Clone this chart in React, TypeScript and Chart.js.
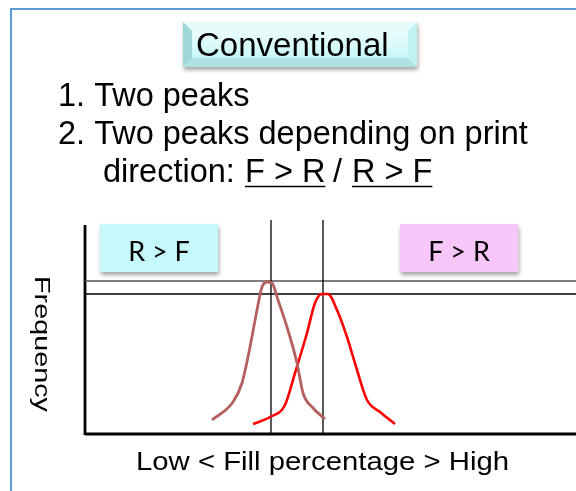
import React, { useEffect, useRef } from 'react';
import { Chart, registerables } from 'chart.js';

Chart.register(...registerables);

// ---- text content ----
const titleText = 'Conventional';
const noteLines = ['1. Two peaks', '2. Two peaks depending on print'];
const directionPrefix = 'direction:';
const directionOptions = ['F > R', 'R > F'];
const regionLabels = ['R > F', 'F > R'];
const xAxisTitle = 'Low < Fill percentage > High';
const yAxisTitle = 'Frequency';

// ---- data (arbitrary units: fill percentage vs frequency) ----
const rfX = [127, 148, 157, 165, 172, 177, 182, 187, 193, 202, 212, 218, 228, 240];
const rfY = [14, 32, 51, 87, 124, 147, 152, 151, 134, 107, 71, 41, 26, 15];
const frX = [168, 185, 200, 210, 222, 230, 237, 243, 252, 262, 272, 282, 295, 310];
const frY = [10, 17, 29, 61, 101, 131, 140, 140, 124, 97, 64, 34, 22, 10];
const peakX = [186, 238];
const peakY = [153, 140];
const xMax = 491;
const yMax = 214;
const yAxisTop = 209;

const FONT = '"Liberation Sans", Arial, sans-serif';

function pts(xs: number[], ys: number[]) {
  return xs.map((x, i) => ({ x, y: ys[i] }));
}

const decorPlugin = {
  id: 'decor',
  beforeDraw(chart: any) {
    const ctx: CanvasRenderingContext2D = chart.ctx;
    const xs = chart.scales.x;
    const ys = chart.scales.y;
    ctx.save();
    ctx.fillStyle = '#ffffff';
    ctx.fillRect(0, 0, chart.width, chart.height);

    // slide border
    ctx.strokeStyle = '#5b9bd5';
    ctx.lineWidth = 2;
    ctx.strokeRect(11, 9, 700, 600);

    // title bevel box
    const bx = 183, by = 22, bw = 234, bh = 45, bv = 9;
    ctx.save();
    ctx.shadowColor = 'rgba(0,0,0,0.35)';
    ctx.shadowBlur = 4;
    ctx.shadowOffsetY = 3;
    ctx.shadowOffsetX = 1;
    ctx.fillStyle = '#c8f2f2';
    ctx.fillRect(bx, by, bw, bh);
    ctx.restore();
    const poly = (p: number[][], c: string) => {
      ctx.beginPath();
      ctx.moveTo(p[0][0], p[0][1]);
      for (let i = 1; i < p.length; i++) ctx.lineTo(p[i][0], p[i][1]);
      ctx.closePath();
      ctx.fillStyle = c;
      ctx.fill();
    };
    poly([[bx, by], [bx + bw, by], [bx + bw - bv, by + bv], [bx + bv, by + bv]], '#e6fbfb');
    poly([[bx, by], [bx + bv, by + bv], [bx + bv, by + bh - bv], [bx, by + bh]], '#9fd6d6');
    poly([[bx + bw, by], [bx + bw, by + bh], [bx + bw - bv, by + bh - bv], [bx + bw - bv, by + bv]], '#c2f3f3');
    poly([[bx, by + bh], [bx + bv, by + bh - bv], [bx + bw - bv, by + bh - bv], [bx + bw, by + bh]], '#aee3e3');
    const g = ctx.createLinearGradient(0, by + bv, 0, by + bh - bv);
    g.addColorStop(0, '#eafdfd');
    g.addColorStop(1, '#c9f7f7');
    ctx.fillStyle = g;
    ctx.fillRect(bx + bv, by + bv, bw - 2 * bv, bh - 2 * bv);
    ctx.fillStyle = '#000';
    ctx.font = `33px ${FONT}`;
    ctx.textBaseline = 'alphabetic';
    ctx.textAlign = 'left';
    ctx.fillText(titleText, 196, 56);

    // notes
    ctx.font = `32.5px ${FONT}`;
    ctx.fillText(noteLines[0], 58, 106);
    ctx.fillText(noteLines[1], 58, 144);
    ctx.fillText(directionPrefix, 103, 182);
    const optX = [245, 352];
    ctx.lineWidth = 1.5;
    ctx.strokeStyle = '#000';
    directionOptions.forEach((t, i) => {
      ctx.fillText(t, optX[i], 182);
      const w = ctx.measureText(t).width;
      ctx.beginPath();
      ctx.moveTo(optX[i], 186.5);
      ctx.lineTo(optX[i] + w, 186.5);
      ctx.stroke();
    });
    ctx.fillText('/', 333, 182);

    // region label boxes
    const boxes = [
      { x0: 15, x1: 133, c: '#c6f9f9' },
      { x0: 315, x1: 433, c: '#f9c6f9' },
    ];
    boxes.forEach((b, i) => {
      const l = xs.getPixelForValue(b.x0);
      const r = xs.getPixelForValue(b.x1);
      const t = ys.getPixelForValue(210);
      const bt = ys.getPixelForValue(162);
      ctx.save();
      ctx.shadowColor = 'rgba(0,0,0,0.35)';
      ctx.shadowBlur = 4;
      ctx.shadowOffsetY = 3;
      ctx.shadowOffsetX = 1;
      ctx.fillStyle = b.c;
      ctx.fillRect(l, t, r - l, bt - t);
      ctx.restore();
      ctx.fillStyle = '#000';
      ctx.font = `27px Lato, "Open Sans", sans-serif`;
      ctx.textAlign = 'center';
      ctx.fillText(regionLabels[i], (l + r) / 2, 261);
    });

    // axis titles
    ctx.textAlign = 'left';
    ctx.font = `25px ${FONT}`;
    let w = ctx.measureText(xAxisTitle).width;
    ctx.save();
    ctx.translate(136, 470);
    ctx.scale(373 / w, 1);
    ctx.fillText(xAxisTitle, 0, 0);
    ctx.restore();

    ctx.font = `22px ${FONT}`;
    w = ctx.measureText(yAxisTitle).width;
    ctx.save();
    ctx.translate(35, 276);
    ctx.rotate(Math.PI / 2);
    ctx.scale(136 / w, 1);
    ctx.fillText(yAxisTitle, 0, 0);
    ctx.restore();

    ctx.restore();
  },
};

export default function App() {
  const ref = useRef<HTMLCanvasElement | null>(null);
  useEffect(() => {
    if (!ref.current) return;
    const line = (data: any[], color: string, width: number, extra: any = {}) => ({
      data,
      borderColor: color,
      borderWidth: width,
      pointRadius: 0,
      fill: false,
      clip: false,
      ...extra,
    });
    const chart = new Chart(ref.current, {
      type: 'line',
      data: {
        datasets: [
          line(pts(rfX, rfY), '#b5605c', 2.8, { cubicInterpolationMode: 'monotone' }),
          line(pts(frX, frY), '#ff0000', 2.6, { cubicInterpolationMode: 'monotone' }),
          line([{ x: peakX[0], y: 0 }, { x: peakX[0], y: yMax }], '#000', 1.3),
          line([{ x: peakX[1], y: 0 }, { x: peakX[1], y: yMax }], '#000', 1.3),
          line([{ x: 0, y: peakY[0] }, { x: xMax, y: peakY[0] }], '#555', 1.6),
          line([{ x: 0, y: peakY[1] }, { x: xMax, y: peakY[1] }], '#000', 1.6),
          line([{ x: 0, y: 0 }, { x: xMax, y: 0 }], '#000', 2.8),
          line([{ x: 0, y: -1 }, { x: 0, y: yAxisTop }], '#000', 2.8),
        ],
      },
      options: {
        responsive: false,
        animation: false,
        layout: { padding: { left: 85, right: 0, top: 220, bottom: 57 } },
        plugins: { legend: { display: false }, tooltip: { enabled: false } },
        scales: {
          x: { type: 'linear', display: false, min: 0, max: xMax },
          y: { type: 'linear', display: false, min: 0, max: yMax },
        },
      },
      plugins: [decorPlugin],
    });
    return () => chart.destroy();
  }, []);
  return (
    <div style={{ position: 'fixed', left: 0, top: 0, width: 576, height: 491 }}>
      <canvas ref={ref} width={576} height={491} style={{ display: 'block' }} />
    </div>
  );
}
